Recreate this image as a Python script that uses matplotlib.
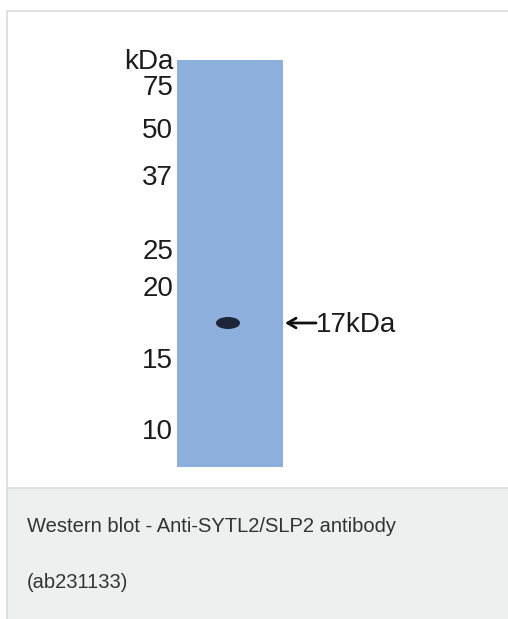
import matplotlib
matplotlib.use("Agg")
import matplotlib.pyplot as plt
from matplotlib.patches import Rectangle, Ellipse

plt.rcParams['font.family'] = ['Liberation Sans', 'DejaVu Sans']

# marker ladder (kDa) and where each sits down the gel (px from top of figure)
marker_kda = ["75", "50", "37", "25", "20", "15", "10"]
marker_y = [86, 129, 176, 250, 287, 359, 430]

# detected band
band_label = "17kDa"
band_y = 323

caption_lines = ["Western blot - Anti-SYTL2/SLP2 antibody", "(ab231133)"]

W, H = 508, 619
fig = plt.figure(figsize=(W / 100, H / 100), dpi=100)
ax = fig.add_axes([0, 0, 1, 1])
ax.set_xlim(0, W)
ax.set_ylim(H, 0)
ax.axis("off")

# card frame
ax.add_patch(Rectangle((7, 11), W, H, facecolor="white", edgecolor="#dcdcdc", lw=1.2))
# caption area
ax.add_patch(Rectangle((7, 488), W, H - 488 + 5, facecolor="#eeefef", edgecolor="#dcdcdc", lw=1.2))

# gel lane
ax.add_patch(Rectangle((177, 60), 106, 407, facecolor="#8cafdb", edgecolor="none"))

# band
ax.add_patch(Ellipse((228, band_y), 24, 12, facecolor="#1c2638", edgecolor="none"))

lab_kw = dict(fontsize=20, color="#1c1c1c")
dy = 2  # va='center' sits glyphs a touch high

# marker labels
ax.text(173, 60 + dy, "kDa", ha="right", va="center", **lab_kw)
for lab, y in zip(marker_kda, marker_y):
    ax.text(173, y + dy, lab, ha="right", va="center", **lab_kw)

# arrow + label
ax.annotate("", xy=(285, band_y), xytext=(316, band_y),
            arrowprops=dict(arrowstyle="->,head_length=0.6,head_width=0.35", color="#111111",
                            lw=2, shrinkA=0, shrinkB=0))
ax.text(316, band_y + dy, band_label, ha="left", va="center", **lab_kw)

# caption
cap_kw = dict(ha="left", va="center", fontsize=14.5, color="#333333")
ax.text(27, 525 + dy, caption_lines[0], **cap_kw)
ax.text(27, 581 + dy, caption_lines[1], **cap_kw)

fig.savefig("out.png", dpi=100)
